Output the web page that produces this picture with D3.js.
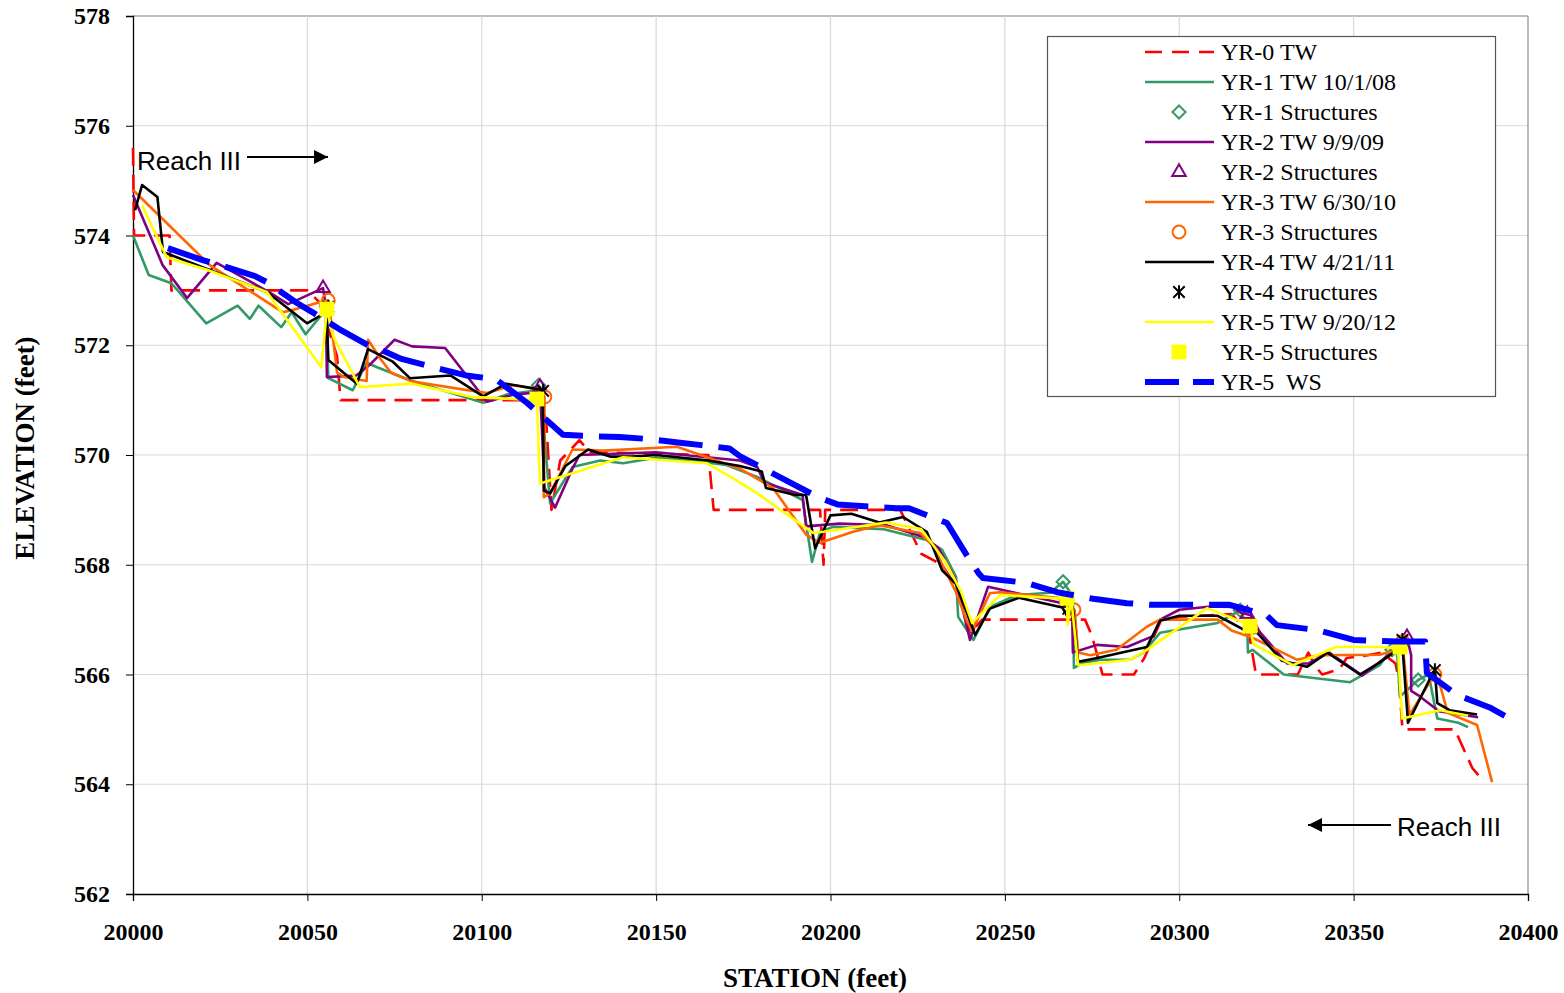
<!DOCTYPE html>
<html><head><meta charset="utf-8">
<script src="https://cdn.jsdelivr.net/npm/d3@7"></script>
<style>
html,body{margin:0;padding:0;background:#fff;}
svg{display:block;}
</style></head><body>
<svg id="chart" width="1564" height="993"></svg>
<script>
// Thalweg (TW) profiles by monitoring year, [station ft, elevation ft]
const yr0TW = [[20000,575.6],[20000.3,574.0],[20010.5,574.0],[20011,573.0],[20050,573.0],[20053.5,572.78],[20057,572.1],[20058.5,571.8],[20059.5,571.0],[20117,571.0],[20118.5,570.6],[20120,569.0],[20122.5,569.9],[20124,570.0],[20128,570.27],[20131,570.05],[20165,570.0],[20166.5,569.0],[20197,569.0],[20198,568.0],[20198.5,569.0],[20220,569.0],[20226,568.2],[20232,568.0],[20236,567.6],[20240,566.75],[20243.5,567.0],[20273,567.0],[20275,566.7],[20278,566.0],[20287,566.0],[20290,566.3],[20294.5,566.95],[20300,567.05],[20315,567.1],[20320,566.75],[20322,566.0],[20334,566.0],[20335.5,566.2],[20337,566.4],[20339,566.15],[20341,566.0],[20346,566.1],[20348,566.3],[20354,566.35],[20358,566.4],[20362,566.2],[20363,565.9],[20364,565.0],[20379,565.0],[20384,564.3],[20386,564.15]];
const yr1TW = [[20000,574.0],[20004.5,573.28],[20011,573.13],[20013.5,572.95],[20021,572.4],[20030,572.72],[20033.5,572.48],[20036,572.72],[20042.5,572.33],[20045.5,572.6],[20049.5,572.2],[20054,572.55],[20055.5,572.75],[20056,571.4],[20063,571.18],[20067,571.68],[20070,571.6],[20080,571.35],[20100.5,570.95],[20107,571.1],[20115,571.17],[20116.3,571.27],[20117,571.1],[20119.6,569.12],[20126,569.78],[20134,569.9],[20140.5,569.85],[20150,569.95],[20160,569.9],[20170,569.82],[20179,569.6],[20192,569.18],[20194.7,568.05],[20197,568.6],[20200.7,568.69],[20215,568.65],[20227.6,568.45],[20232,568.27],[20236,567.78],[20236.6,567.05],[20241,566.63],[20245.7,567.23],[20253.5,567.45],[20263,567.49],[20266.7,567.69],[20269.5,567.42],[20269.8,566.12],[20272,566.2],[20277.3,566.27],[20286,566.27],[20289.6,566.4],[20294.5,566.76],[20300,566.82],[20311,566.94],[20317.5,567.17],[20319.5,566.9],[20319.7,566.4],[20321,566.45],[20330,566.0],[20349,565.86],[20357.5,566.17],[20360.5,566.45],[20362.5,566.36],[20363.3,565.6],[20368.5,565.9],[20371.5,566.0],[20374,565.2],[20380,565.12],[20382.8,565.04]];
const yr2TW = [[20000,574.74],[20008.5,573.46],[20015.5,572.86],[20024,573.5],[20039,572.97],[20044.5,572.75],[20054.5,573.04],[20055.3,572.7],[20055.6,571.42],[20064,571.45],[20068,571.65],[20075,572.1],[20080,571.98],[20089.5,571.95],[20101.5,570.97],[20109,571.1],[20115.5,571.14],[20116.7,571.24],[20118,569.4],[20121,569.04],[20126,569.75],[20128,570.0],[20150,570.05],[20174,569.9],[20179,569.78],[20181,569.5],[20192,569.27],[20193,568.7],[20202.5,568.75],[20216,568.72],[20227,568.5],[20231,568.3],[20236,567.7],[20240,566.63],[20245.2,567.6],[20253.5,567.48],[20266.5,567.3],[20269.3,567.15],[20269.5,566.4],[20276.4,566.54],[20285,566.5],[20292.5,566.7],[20294.5,567.0],[20300,567.18],[20309,567.24],[20315.4,567.23],[20317.5,567.13],[20320.5,567.08],[20323,566.78],[20331,566.2],[20337,566.2],[20343,566.4],[20352.5,565.98],[20361,566.4],[20365.3,566.68],[20366.5,566.35],[20366.5,565.7],[20369,565.6],[20374.5,565.33],[20385.7,565.22]];
const yr3TW = [[20000,574.83],[20022,573.46],[20043,572.6],[20045.5,572.64],[20054.5,572.8],[20056,572.82],[20056.5,572.6],[20058.5,571.5],[20060.5,571.42],[20067,571.35],[20067.4,572.1],[20071,571.75],[20074,571.5],[20079.5,571.35],[20087,571.27],[20094,571.2],[20101.5,571.13],[20109,571.27],[20116,571.2],[20118,571.06],[20117.8,569.23],[20119.6,569.3],[20126,570.1],[20135,570.08],[20156,570.15],[20174,569.75],[20183.5,569.4],[20193,568.55],[20197,568.4],[20206.5,568.6],[20214,568.72],[20225.7,568.58],[20229.5,568.33],[20236,567.5],[20239,566.99],[20240.6,566.8],[20245.7,567.48],[20248.5,567.5],[20265,567.4],[20269.5,567.2],[20270,567.18],[20271,566.4],[20274.5,566.35],[20282,566.45],[20290.7,566.87],[20294.5,567.0],[20311,567.0],[20315,566.8],[20321,566.67],[20333.7,566.27],[20340,566.35],[20357.5,566.36],[20362.5,566.45],[20364,566.6],[20366,565.26],[20372.5,565.93],[20373.3,566.0],[20374.8,565.8],[20377,565.3],[20385.4,565.08],[20389.7,564.04]];
const yr4TW = [[20000.6,574.46],[20002.6,574.92],[20007,574.7],[20008.6,573.7],[20038.4,572.97],[20049.9,572.4],[20054,572.55],[20055.5,572.7],[20056,571.73],[20064.2,571.3],[20067.4,571.93],[20074.5,571.7],[20079.4,571.4],[20091,571.45],[20100.4,571.07],[20107,571.3],[20116,571.2],[20117.5,571.18],[20117.8,569.35],[20119.6,569.3],[20124,569.8],[20130.5,570.1],[20137,569.97],[20143,569.97],[20150,570.0],[20165,569.9],[20174,569.8],[20180.3,569.7],[20181.5,569.4],[20190,569.27],[20193,569.27],[20195.6,568.3],[20200,568.9],[20206,568.93],[20214,568.77],[20220.8,568.87],[20227.6,568.6],[20232,567.9],[20236,567.65],[20241.5,566.72],[20245.7,567.2],[20254,567.4],[20266.5,567.22],[20268,567.05],[20269.5,567.2],[20271,566.23],[20276.5,566.3],[20290.7,566.5],[20294.5,566.98],[20300,567.07],[20311,567.07],[20314,566.97],[20319,566.8],[20322.5,566.75],[20329.5,566.25],[20336.6,566.14],[20342.5,566.4],[20351.8,566.0],[20357.5,566.22],[20361.5,566.4],[20363.9,566.6],[20365.6,565.12],[20372.5,566.0],[20373.3,566.08],[20374,565.48],[20377.5,565.35],[20385.4,565.27]];
const yr5TW = [[20002.6,574.55],[20009.7,573.6],[20021,573.38],[20038.4,572.97],[20046,572.3],[20054,571.6],[20055.6,572.66],[20057.5,572.15],[20065,571.24],[20080,571.3],[20097,571.06],[20115,571.0],[20115.8,571.02],[20116.7,569.48],[20140.5,569.96],[20164.5,569.85],[20174,569.5],[20179,569.3],[20195,568.58],[20198,568.6],[20216,568.77],[20226,568.65],[20233,568.05],[20237.5,567.5],[20240.6,566.94],[20248.7,567.45],[20267,567.38],[20267.8,567.39],[20268,566.9],[20269,567.4],[20271,566.17],[20286,566.27],[20290.7,566.45],[20308,567.21],[20318.3,566.95],[20320.3,566.88],[20321.3,566.55],[20332.6,566.17],[20345,566.5],[20357.5,566.5],[20362.7,566.48],[20363.9,565.2],[20374.8,565.35],[20382.8,565.25]];
// Year-5 water surface
const yr5WS = [[20010,573.77],[20020,573.55],[20025,573.46],[20035,573.26],[20038.4,573.15],[20047,572.77],[20051.5,572.6],[20059,572.3],[20068,571.98],[20071.7,571.9],[20077,571.75],[20086,571.6],[20095.5,571.45],[20101.5,571.4],[20104.5,571.36],[20113,570.95],[20117.5,570.7],[20123.3,570.37],[20133,570.34],[20139.5,570.33],[20148,570.29],[20157.5,570.22],[20163,570.18],[20171,570.12],[20174,569.98],[20180,569.78],[20186,569.58],[20196.5,569.23],[20202,569.1],[20213,569.05],[20219,569.03],[20222.5,569.03],[20233.4,568.76],[20239,568.18],[20242.4,567.85],[20243.7,567.76],[20256.2,567.67],[20265,567.5],[20271,567.43],[20275.3,567.38],[20285,567.3],[20291.6,567.27],[20302,567.27],[20314.5,567.27],[20325,567.08],[20328,566.9],[20339.5,566.81],[20350,566.63],[20362.4,566.6],[20370.5,566.6],[20371,566.03],[20379.6,565.63],[20389,565.4],[20396.9,565.12]];
// Grade-control structure crests by monitoring year
const yr1Struct = [[20055.5,572.7],[20116.3,571.27],[20266.7,567.69],[20317.5,567.17],[20361,566.45],[20368.5,565.9]];
const yr2Struct = [[20054.5,573.04],[20116.7,571.24],[20267.5,567.3],[20319.5,567.1],[20365.3,566.68]];
const yr3Struct = [[20056,572.82],[20118.1,571.06],[20269.8,567.18],[20320.5,566.85],[20364,566.6],[20373.3,566.0]];
const yr4Struct = [[20056,572.7],[20117.6,571.17],[20268.2,567.2],[20320.5,566.85],[20364,566.63],[20373.3,566.08]];
const yr5Struct = [[20055.6,572.66],[20115.8,571.02],[20267.8,567.39],[20320.3,566.88],[20363.3,566.5]];

const xTicks = [20000,20050,20100,20150,20200,20250,20300,20350,20400];
const yTicks = [562,564,566,568,570,572,574,576,578];
const legendLabels = ["YR-0 TW","YR-1 TW 10/1/08","YR-1 Structures","YR-2 TW 9/9/09","YR-2 Structures","YR-3 TW 6/30/10","YR-3 Structures","YR-4 TW 4/21/11","YR-4 Structures","YR-5 TW 9/20/12","YR-5 Structures","YR-5  WS"];

const svg = d3.select("#chart");
const P = {left:133, right:1528, top:16, bottom:894};
const x = d3.scaleLinear().domain([20000,20400]).range([P.left, P.right]);
const y = d3.scaleLinear().domain([562,578]).range([P.bottom, P.top]);

const serif = "'Liberation Serif','Times New Roman',serif";
const sans = "'Liberation Sans',Arial,sans-serif";

// gridlines
const grid = svg.append("g");
grid.selectAll("line.h").data(yTicks.slice(1)).join("line")
  .attr("x1", P.left).attr("x2", P.right)
  .attr("y1", d => y(d)).attr("y2", d => y(d))
  .attr("stroke", d => d === 578 ? "#7f7f7f" : "#d9d9d9").attr("stroke-width", 1.2);
grid.selectAll("line.v").data(xTicks.slice(1)).join("line")
  .attr("y1", P.top).attr("y2", P.bottom)
  .attr("x1", d => x(d)).attr("x2", d => x(d))
  .attr("stroke", d => d === 20400 ? "#8c8c8c" : "#d9d9d9").attr("stroke-width", 1.2);

// axes
const yAxis = svg.append("g").attr("transform", `translate(${P.left},0)`)
  .call(d3.axisLeft(y).tickValues(yTicks).tickSize(7).tickPadding(16).tickFormat(d3.format("d")));
const xAxis = svg.append("g").attr("transform", `translate(0,${P.bottom})`)
  .call(d3.axisBottom(x).tickValues(xTicks).tickSize(7).tickPadding(22).tickFormat(d3.format("d")));
[yAxis, xAxis].forEach(a => {
  a.select(".domain").attr("stroke", "#000").attr("stroke-width", 1.3);
  a.selectAll(".tick line").attr("stroke", "#000");
  a.selectAll("text").attr("font-family", serif).attr("font-weight", "bold")
    .attr("font-size", 24).attr("fill", "#000");
});

// axis titles
svg.append("text").attr("x", 815).attr("y", 987).attr("text-anchor", "middle")
  .attr("font-family", serif).attr("font-weight", "bold").attr("font-size", 27)
  .text("STATION (feet)");
svg.append("text").attr("transform", "translate(34,448) rotate(-90)").attr("text-anchor", "middle")
  .attr("font-family", serif).attr("font-weight", "bold").attr("font-size", 27)
  .text("ELEVATION (feet)");

const line = d3.line().x(d => x(d[0])).y(d => y(d[1]));

// custom star marker: X with vertical bar
const starSym = {draw(ctx, size){ const r = Math.sqrt(size)/2;
  ctx.moveTo(-r,-r); ctx.lineTo(r,r); ctx.moveTo(-r,r); ctx.lineTo(r,-r);
  ctx.moveTo(0,-r*1.2); ctx.lineTo(0,r*1.2); }};

const series = [
  {type:"line", data:yr0TW, color:"#ff0000", width:2.6, dash:"18,9"},
  {type:"line", data:yr1TW, color:"#339966", width:2.6},
  {type:"mark", data:yr1Struct, color:"#339966", sym:d3.symbolDiamond2, size:110, fill:"none"},
  {type:"line", data:yr2TW, color:"#800080", width:2.6},
  {type:"mark", data:yr2Struct, color:"#800080", sym:d3.symbolTriangle2, size:130, fill:"none"},
  {type:"line", data:yr3TW, color:"#ff6600", width:2.6},
  {type:"mark", data:yr3Struct, color:"#ff6600", sym:d3.symbolCircle, size:130, fill:"none"},
  {type:"line", data:yr4TW, color:"#000000", width:2.6},
  {type:"mark", data:yr4Struct, color:"#000000", sym:starSym, size:130, fill:"none"},
  {type:"line", data:yr5TW, color:"#ffff00", width:2.6},
  {type:"mark", data:yr5Struct, color:"#ffff00", sym:d3.symbolSquare, size:220, fill:"#ffff00"},
  {type:"line", data:yr5WS, color:"#0000ff", width:6, dash:"44,16"}
];

const plotG = svg.append("g");
series.forEach(s => {
  if (s.type === "line") {
    plotG.append("path").datum(s.data).attr("d", line).attr("fill", "none")
      .attr("stroke", s.color).attr("stroke-width", s.width)
      .attr("stroke-linejoin", "round")
      .attr("stroke-dasharray", s.dash || null);
  } else {
    plotG.selectAll(null).data(s.data).join("path")
      .attr("transform", d => `translate(${x(d[0])},${y(d[1])})`)
      .attr("d", d3.symbol().type(s.sym).size(s.size))
      .attr("fill", s.fill).attr("stroke", s.fill === "none" ? s.color : "none")
      .attr("stroke-width", 2);
  }
});

// reach annotations
svg.append("defs").append("marker").attr("id", "arrowHead")
  .attr("viewBox", "0 0 10 10").attr("refX", 10).attr("refY", 5)
  .attr("markerWidth", 16).attr("markerHeight", 14).attr("markerUnits", "userSpaceOnUse")
  .attr("orient", "auto")
  .append("path").attr("d", "M0,0L10,5L0,10Z").attr("fill", "#000");
svg.append("text").attr("x", 137).attr("y", 170).attr("font-family", sans)
  .attr("font-size", 26).text("Reach III");
svg.append("line").attr("x1", 247).attr("x2", 328).attr("y1", 157).attr("y2", 157)
  .attr("stroke", "#000").attr("stroke-width", 2).attr("marker-end", "url(#arrowHead)");
svg.append("text").attr("x", 1397).attr("y", 836).attr("font-family", sans)
  .attr("font-size", 26).text("Reach III");
svg.append("line").attr("x1", 1391).attr("x2", 1308).attr("y1", 825).attr("y2", 825)
  .attr("stroke", "#000").attr("stroke-width", 2).attr("marker-end", "url(#arrowHead)");

// legend
const leg = svg.append("g");
leg.append("rect").attr("x", 1047.5).attr("y", 36.5).attr("width", 448).attr("height", 360)
  .attr("fill", "#fff").attr("stroke", "#555").attr("stroke-width", 1.2);
const legItems = series.map((s, i) => ({...s, label: legendLabels[i]}));
legItems.forEach((s, i) => {
  const cy = 52 + i * 30;
  if (s.type === "line") {
    leg.append("line").attr("x1", 1145).attr("x2", 1214).attr("y1", cy).attr("y2", cy)
      .attr("stroke", s.color).attr("stroke-width", s.width)
      .attr("stroke-dasharray", s.dash ? (s.width > 4 ? "34,14" : "17,10") : null);
  } else {
    leg.append("path").attr("transform", `translate(1179,${cy})`)
      .attr("d", d3.symbol().type(s.sym).size(s.size))
      .attr("fill", s.fill).attr("stroke", s.fill === "none" ? s.color : "none")
      .attr("stroke-width", 2);
  }
  leg.append("text").attr("x", 1221).attr("y", cy + 8).attr("font-family", serif)
    .attr("font-size", 24).attr("fill", "#000").style("white-space", "pre").text(s.label);
});
</script>
</body></html>
